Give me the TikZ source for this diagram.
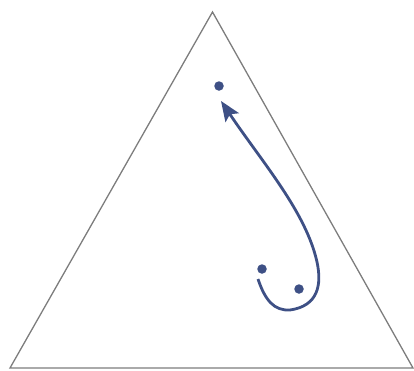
\documentclass[tikz,border=0pt]{standalone}
\usepackage{tikz}
\usetikzlibrary{arrows.meta}
\definecolor{pathblue}{RGB}{62,80,133}
\definecolor{edgegray}{RGB}{125,125,125}
\tikzset{
  dot/.style = {circle, fill = pathblue, inner sep = 0pt, minimum size = 9.5pt},
  side/.style = {draw = edgegray, line width = 1.3pt},
  flow/.style = {draw = pathblue, line width = 2.8pt, -{Stealth[length = 20pt, width = 16pt, inset = 4pt]}}
}
\begin{document}
\begin{tikzpicture}[x = 1pt, y = -1pt]
\useasboundingbox (0,0) rectangle (414,370);
% simplex
\coordinate (top) at (212.5,12);
\coordinate (left) at (10,368);
\coordinate (right) at (413,368);
\draw [side] (left) -- (top) -- (right) -- cycle;
% points
\node [dot] (p1) at (219,86) {};
\node [dot] (p2) at (262,269) {};
\node [dot] (p3) at (299,289) {};
% trajectory
\coordinate (start) at (258,279);
\coordinate (low) at (290,310);
\coordinate (turn) at (317,262);
\coordinate (tip) at (221,101);
\draw [flow] (start) .. controls (265,300) and (274,311) .. (low)
  .. controls (318,306) and (322,285) .. (turn)
  .. controls (306,212) and (262,162) .. (tip);
\end{tikzpicture}
\end{document}
